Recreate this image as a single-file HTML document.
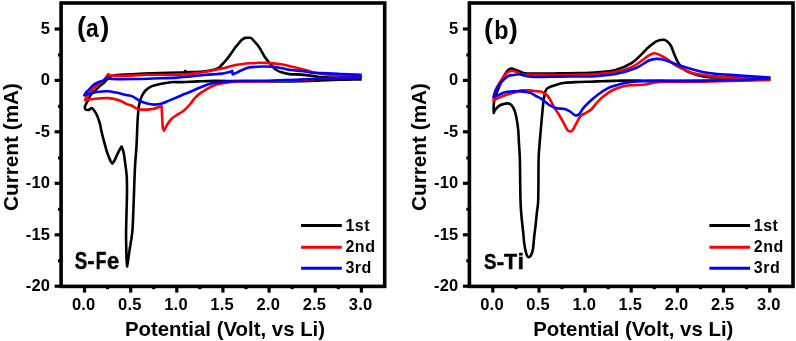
<!DOCTYPE html>
<html><head><meta charset="utf-8"><style>
html,body{margin:0;padding:0;background:#fff;width:796px;height:341px;overflow:hidden}
svg{display:block;will-change:transform}
text{font-family:"Liberation Sans",sans-serif;font-weight:bold;fill:#000}
.tk{font-size:16.5px;letter-spacing:0.2px}
.ax{font-size:20px}
.pl{font-size:27.3px;letter-spacing:0px}
.sl{font-size:22px;letter-spacing:-0.5px}
.lg{font-size:16px;letter-spacing:0.55px}
</style></head><body>
<svg width="796" height="341" viewBox="0 0 796 341">
<text transform="translate(74.66,269.00) scale(0.813,1)" style="font-size:23.0px" stroke="#000" stroke-width="0.45">S</text>
<text transform="translate(87.34,269.00) scale(0.959,1)" style="font-size:23.0px" stroke="#000" stroke-width="0.45">-</text>
<text transform="translate(95.84,269.00) scale(0.754,1)" style="font-size:23.0px" stroke="#000" stroke-width="0.45">F</text>
<text transform="translate(107.04,269.00) scale(0.954,1)" style="font-size:23.0px" stroke="#000" stroke-width="0.45">e</text>
<text transform="translate(484.06,269.00) scale(0.827,1)" style="font-size:22.6px" stroke="#000" stroke-width="0.45">S</text>
<text transform="translate(496.39,269.00) scale(1.028,1)" style="font-size:22.6px" stroke="#000" stroke-width="0.45">-</text>
<text transform="translate(504.06,269.00) scale(0.954,1)" style="font-size:22.6px" stroke="#000" stroke-width="0.45">T</text>
<text transform="translate(517.47,269.00) scale(1.032,1)" style="font-size:22.6px" stroke="#000" stroke-width="0.45">i</text>
<g transform="translate(0.0,0)">
<path d="M361.7,79.4 C358.1,79.5 346.9,79.6 340.0,79.8 C333.1,80.0 326.7,80.2 320.0,80.4 C313.3,80.7 306.7,81.1 300.0,81.3 C293.3,81.5 286.7,81.5 280.0,81.5 C273.3,81.5 266.7,81.4 260.0,81.3 C253.3,81.2 247.5,81.2 240.0,81.1 C232.5,81.0 222.1,80.9 215.0,80.9 C207.9,81.0 203.4,81.2 197.6,81.4 C191.8,81.6 184.5,82.0 180.0,82.1 C175.5,82.2 174.1,81.9 170.8,82.2 C167.5,82.5 163.4,83.2 160.2,83.9 C157.0,84.6 153.8,85.3 151.4,86.4 C149.0,87.5 147.1,88.8 145.5,90.5 C143.9,92.2 142.7,94.1 141.6,96.5 C140.5,98.9 139.8,101.2 139.1,104.9 C138.4,108.7 138.0,114.0 137.7,119.0 C137.3,124.0 137.2,130.2 137.0,135.0 C136.8,139.8 136.7,142.6 136.4,147.6 C136.1,152.6 135.5,158.1 135.1,165.2 C134.7,172.3 134.4,180.9 134.1,190.0 C133.8,199.1 133.3,213.0 133.0,220.0 C132.7,227.0 132.6,228.7 132.3,232.0 C132.0,235.3 131.5,237.7 131.2,240.0 C130.8,242.3 130.5,243.8 130.2,246.0 C129.8,248.2 129.5,250.8 129.1,253.4 C128.7,256.0 128.2,259.5 127.9,261.7 C127.6,263.9 127.2,265.7 127.1,266.5 C127.0,265.4 126.8,263.6 126.6,260.0 C126.4,256.4 126.3,250.0 126.2,245.0 C126.1,240.0 126.0,235.8 126.1,230.0 C126.2,224.2 126.4,216.7 126.6,210.0 C126.8,203.3 127.0,195.7 127.0,190.0 C127.0,184.3 127.0,180.3 126.7,176.0 C126.4,171.7 125.8,168.0 125.3,164.0 C124.8,160.0 124.1,154.9 123.5,152.0 C122.9,149.1 121.9,147.4 121.6,146.5 C121.2,147.1 120.3,148.6 119.5,150.0 C118.7,151.4 117.8,153.2 117.0,155.0 C116.2,156.8 115.3,159.1 114.5,160.5 C113.7,161.9 112.8,163.0 112.4,163.5 C112.1,163.1 111.3,162.8 110.5,161.0 C109.7,159.2 108.4,156.3 107.3,152.9 C106.2,149.5 104.8,144.4 103.8,140.6 C102.8,136.8 101.8,132.8 101.2,130.0 C100.6,127.2 100.5,125.9 99.9,123.7 C99.3,121.5 98.4,119.0 97.7,117.1 C97.0,115.2 96.2,113.8 95.5,112.5 C94.8,111.2 94.0,110.0 93.3,109.3 C92.6,108.5 92.1,108.0 91.5,108.0 C90.9,108.0 90.4,109.2 89.7,109.5 C89.0,109.8 88.2,110.0 87.5,110.0 C86.8,110.0 86.0,109.8 85.5,109.3 C85.0,108.8 84.7,108.2 84.8,107.2 C84.9,106.2 85.7,104.7 86.2,103.6 C86.7,102.5 87.3,101.9 88.0,100.5 C88.7,99.1 89.5,96.7 90.3,95.4 C91.1,94.1 92.0,93.5 93.0,92.5 C94.0,91.5 95.3,90.3 96.5,89.2 C97.7,88.1 98.6,87.0 100.0,85.8 C101.4,84.6 103.4,83.2 104.7,82.0 C106.0,80.8 106.8,79.5 108.0,78.5 C109.2,77.5 110.0,76.6 112.0,76.0 C114.0,75.4 117.0,75.1 120.0,74.8 C123.0,74.5 126.0,74.6 130.0,74.4 C133.9,74.2 138.7,73.7 143.7,73.5 C148.7,73.3 153.9,73.2 160.0,73.0 C166.1,72.8 175.9,72.6 180.0,72.5 C184.1,72.4 183.7,72.2 184.4,72.2 C184.6,72.0 185.2,71.1 185.3,70.9 C185.5,71.1 186.3,72.0 186.5,72.2 C188.8,72.1 196.1,72.1 200.0,71.8 C203.9,71.5 207.0,71.2 210.0,70.6 C213.0,70.0 216.2,69.2 218.2,68.2 C220.2,67.2 220.9,65.6 222.0,64.5 C223.1,63.4 223.8,62.6 224.8,61.5 C225.8,60.4 227.0,59.0 228.1,57.6 C229.2,56.2 230.3,54.6 231.4,53.1 C232.5,51.6 233.5,49.8 234.5,48.5 C235.5,47.2 236.2,46.4 237.3,45.1 C238.4,43.8 239.9,41.8 240.9,40.7 C241.9,39.6 242.7,39.1 243.5,38.6 C244.3,38.1 244.8,38.0 245.5,37.9 C246.2,37.8 247.1,37.8 248.0,37.8 C248.9,37.8 250.0,37.6 250.8,37.9 C251.6,38.2 252.0,38.9 252.6,39.5 C253.2,40.1 253.4,40.4 254.4,41.5 C255.4,42.6 257.4,44.7 258.5,46.2 C259.6,47.7 260.0,48.6 261.0,50.3 C262.0,52.0 263.2,54.6 264.5,56.5 C265.8,58.4 267.2,60.1 268.5,61.8 C269.8,63.5 271.2,65.1 272.5,66.5 C273.8,67.9 275.1,69.1 276.5,70.0 C277.9,70.9 278.7,71.4 280.8,72.1 C282.9,72.8 285.6,73.7 289.0,74.1 C292.4,74.5 297.5,74.3 301.3,74.6 C305.1,74.9 308.5,75.3 311.6,75.7 C314.7,76.1 316.7,76.7 319.8,77.0 C322.9,77.3 325.8,77.4 330.0,77.5 C334.2,77.6 339.7,77.6 345.0,77.6 C350.3,77.6 358.9,77.4 361.7,77.4" fill="none" stroke="#000" stroke-width="2.6" stroke-linejoin="round" stroke-linecap="butt"/>
<path d="M361.7,77.2 C358.1,77.3 346.9,77.6 340.0,77.8 C333.1,78.0 326.7,78.2 320.0,78.6 C313.3,79.0 310.0,79.8 300.0,80.2 C290.0,80.6 270.0,81.0 260.0,81.2 C250.0,81.4 245.1,81.2 240.0,81.4 C234.9,81.6 233.4,81.7 229.3,82.3 C225.2,82.9 219.0,83.7 215.2,84.9 C211.4,86.1 208.9,87.9 206.4,89.3 C203.9,90.7 201.9,92.0 200.0,93.4 C198.1,94.8 196.7,96.1 195.0,97.9 C193.3,99.8 191.8,102.3 189.9,104.5 C188.0,106.7 185.5,109.3 183.3,111.1 C181.1,112.9 178.7,113.8 176.7,115.1 C174.7,116.4 172.9,117.5 171.4,119.0 C169.9,120.5 168.6,122.4 167.4,124.3 C166.2,126.2 164.7,129.5 164.1,130.6 C163.9,130.1 163.1,129.6 162.8,127.5 C162.5,125.4 162.4,121.5 162.2,118.0 C162.0,114.5 161.7,108.2 161.6,106.2 C161.0,106.4 159.6,106.7 158.2,107.2 C156.8,107.7 154.9,108.7 152.9,109.1 C150.9,109.5 148.6,109.6 146.1,109.6 C143.6,109.6 140.5,109.9 138.2,109.3 C135.8,108.7 134.0,106.7 132.0,105.8 C130.0,104.9 128.5,104.8 126.3,103.9 C124.1,103.0 121.9,101.3 119.0,100.3 C116.1,99.3 112.1,98.4 108.7,98.1 C105.3,97.8 101.1,98.3 98.6,98.5 C96.0,98.7 95.1,98.8 93.4,99.0 C91.7,99.2 89.7,99.3 88.3,99.5 C86.9,99.7 85.7,100.1 85.2,100.2 C85.4,99.7 85.8,98.1 86.5,97.0 C87.2,95.9 88.1,94.9 89.3,93.4 C90.5,91.9 91.9,89.8 93.4,88.2 C95.0,86.7 97.0,85.2 98.6,84.1 C100.1,83.0 101.5,82.5 102.7,81.5 C103.9,80.5 104.6,79.2 105.5,78.0 C106.4,76.8 107.8,74.8 108.3,74.1 C108.9,74.3 108.4,75.3 112.0,75.6 C115.6,75.8 124.6,75.7 130.1,75.6 C135.6,75.5 140.2,74.9 145.2,74.8 C150.2,74.7 154.2,74.8 160.0,74.8 C165.8,74.8 174.1,74.8 180.0,74.6 C185.9,74.4 190.4,74.0 195.2,73.4 C200.0,72.8 204.3,72.0 208.8,71.2 C213.3,70.4 218.4,69.4 222.0,68.6 C225.6,67.8 228.3,66.8 230.6,66.2 C232.9,65.6 234.1,65.3 235.8,65.0 C237.6,64.7 238.7,64.5 241.1,64.2 C243.5,63.9 246.8,63.5 250.0,63.3 C253.2,63.1 256.9,62.8 260.3,62.8 C263.7,62.8 267.1,62.9 270.5,63.1 C273.9,63.4 277.4,63.8 280.8,64.3 C284.2,64.8 287.7,65.6 291.1,66.4 C294.5,67.2 298.6,68.3 301.3,69.0 C304.0,69.7 305.4,69.9 307.5,70.5 C309.6,71.1 310.9,71.8 313.7,72.4 C316.4,73.0 319.6,73.7 324.0,74.2 C328.4,74.7 333.7,75.1 340.0,75.3 C346.3,75.5 358.1,75.5 361.7,75.6" fill="none" stroke="#f00" stroke-width="2.6" stroke-linejoin="round" stroke-linecap="butt"/>
<path d="M361.7,77.3 C358.1,77.4 346.9,77.7 340.0,77.9 C333.1,78.1 326.7,78.3 320.0,78.6 C313.3,78.9 306.7,79.2 300.0,79.5 C293.3,79.8 286.7,80.0 280.0,80.2 C273.3,80.4 266.7,80.7 260.0,80.8 C253.3,80.9 245.7,80.8 240.0,81.0 C234.3,81.2 229.9,81.5 225.8,81.8 C221.7,82.1 218.4,82.3 215.2,82.8 C212.0,83.3 209.3,84.0 206.4,84.9 C203.5,85.9 200.3,87.3 197.6,88.5 C194.9,89.7 192.1,91.1 190.0,92.0 C187.9,92.9 187.0,93.0 185.0,93.8 C183.0,94.6 180.5,95.9 177.8,97.0 C175.1,98.1 171.5,99.6 169.0,100.6 C166.5,101.6 165.2,102.5 162.9,103.2 C160.6,103.9 157.7,104.6 154.9,104.6 C152.1,104.6 148.7,103.9 146.1,103.2 C143.5,102.5 141.4,101.7 139.1,100.5 C136.8,99.3 134.1,97.0 132.0,96.1 C129.9,95.2 129.0,95.7 126.3,95.1 C123.6,94.5 119.0,93.2 116.0,92.6 C113.0,92.0 110.9,91.4 108.0,91.3 C105.1,91.2 101.0,91.5 98.6,91.8 C96.2,92.0 95.1,92.4 93.4,92.8 C91.7,93.2 89.8,93.5 88.3,93.9 C86.8,94.3 85.0,95.2 84.3,95.4 C84.6,94.9 85.3,93.3 86.0,92.5 C86.7,91.7 87.1,91.5 88.3,90.3 C89.5,89.1 91.7,86.5 93.4,85.1 C95.1,83.7 96.9,82.9 98.6,82.1 C100.3,81.3 102.2,81.1 103.7,80.3 C105.2,79.5 106.9,77.9 107.5,77.4 C108.1,77.7 106.3,78.7 111.3,79.0 C116.3,79.3 129.6,79.1 137.7,79.0 C145.8,78.9 153.4,78.5 160.0,78.3 C166.6,78.1 172.0,77.9 177.1,77.6 C182.2,77.3 186.2,76.8 190.7,76.4 C195.2,76.0 200.1,75.4 204.2,75.0 C208.3,74.6 212.2,74.4 215.2,74.2 C218.2,74.0 220.3,73.8 222.0,73.6 C223.7,73.4 223.9,73.4 225.3,73.1 C226.7,72.8 229.4,72.2 230.6,71.8 C231.8,71.4 231.9,71.0 232.2,70.8 C232.3,71.4 232.6,73.8 232.7,74.4 C233.2,74.2 234.4,73.8 235.8,73.1 C237.2,72.4 239.3,71.3 241.1,70.5 C242.9,69.7 244.9,68.8 246.4,68.3 C247.9,67.8 248.6,67.5 250.0,67.3 C251.4,67.1 252.6,67.0 254.9,66.9 C257.2,66.8 260.8,66.5 263.7,66.5 C266.6,66.5 269.6,66.5 272.5,66.7 C275.4,67.0 277.7,67.5 280.8,68.0 C283.9,68.5 287.7,69.5 291.1,70.0 C294.5,70.5 297.9,70.6 301.3,71.0 C304.7,71.4 308.2,72.2 311.6,72.6 C315.0,72.9 317.2,72.9 321.9,73.1 C326.6,73.3 333.4,73.7 340.0,74.0 C346.6,74.3 358.1,74.7 361.7,74.8" fill="none" stroke="#00f" stroke-width="2.6" stroke-linejoin="round" stroke-linecap="butt"/>
<rect x="61.1" y="3.0" width="323.6" height="283.4" fill="none" stroke="#000" stroke-width="3.6"/>
<line x1="54.6" x2="61.1" y1="29.0" y2="29.0" stroke="#000" stroke-width="3.2"/>
<text x="50.2" y="34.0" text-anchor="end" class="tk">5</text>
<line x1="54.6" x2="61.1" y1="80.4" y2="80.4" stroke="#000" stroke-width="3.2"/>
<text x="50.2" y="85.4" text-anchor="end" class="tk">0</text>
<line x1="54.6" x2="61.1" y1="131.8" y2="131.8" stroke="#000" stroke-width="3.2"/>
<text x="50.2" y="136.8" text-anchor="end" class="tk">-5</text>
<line x1="54.6" x2="61.1" y1="183.3" y2="183.3" stroke="#000" stroke-width="3.2"/>
<text x="50.2" y="188.3" text-anchor="end" class="tk">-10</text>
<line x1="54.6" x2="61.1" y1="234.8" y2="234.8" stroke="#000" stroke-width="3.2"/>
<text x="50.2" y="239.8" text-anchor="end" class="tk">-15</text>
<line x1="54.6" x2="61.1" y1="286.2" y2="286.2" stroke="#000" stroke-width="3.2"/>
<text x="50.2" y="291.2" text-anchor="end" class="tk">-20</text>
<line x1="58.0" x2="61.1" y1="55.0" y2="55.0" stroke="#000" stroke-width="3"/>
<line x1="58.0" x2="61.1" y1="106.4" y2="106.4" stroke="#000" stroke-width="3"/>
<line x1="58.0" x2="61.1" y1="157.9" y2="157.9" stroke="#000" stroke-width="3"/>
<line x1="58.0" x2="61.1" y1="209.3" y2="209.3" stroke="#000" stroke-width="3"/>
<line x1="58.0" x2="61.1" y1="260.8" y2="260.8" stroke="#000" stroke-width="3"/>
<line x1="84.5" x2="84.5" y1="286.4" y2="292.6" stroke="#000" stroke-width="3.2"/>
<text x="83.7" y="309.6" text-anchor="middle" class="tk">0.0</text>
<line x1="130.7" x2="130.7" y1="286.4" y2="292.6" stroke="#000" stroke-width="3.2"/>
<text x="129.8" y="309.6" text-anchor="middle" class="tk">0.5</text>
<line x1="176.8" x2="176.8" y1="286.4" y2="292.6" stroke="#000" stroke-width="3.2"/>
<text x="176.0" y="309.6" text-anchor="middle" class="tk">1.0</text>
<line x1="222.9" x2="222.9" y1="286.4" y2="292.6" stroke="#000" stroke-width="3.2"/>
<text x="222.1" y="309.6" text-anchor="middle" class="tk">1.5</text>
<line x1="269.1" x2="269.1" y1="286.4" y2="292.6" stroke="#000" stroke-width="3.2"/>
<text x="268.3" y="309.6" text-anchor="middle" class="tk">2.0</text>
<line x1="315.2" x2="315.2" y1="286.4" y2="292.6" stroke="#000" stroke-width="3.2"/>
<text x="314.4" y="309.6" text-anchor="middle" class="tk">2.5</text>
<line x1="361.4" x2="361.4" y1="286.4" y2="292.6" stroke="#000" stroke-width="3.2"/>
<text x="360.6" y="309.6" text-anchor="middle" class="tk">3.0</text>
<line x1="107.6" x2="107.6" y1="286.4" y2="289.2" stroke="#000" stroke-width="3.2"/>
<line x1="153.7" x2="153.7" y1="286.4" y2="289.2" stroke="#000" stroke-width="3.2"/>
<line x1="199.9" x2="199.9" y1="286.4" y2="289.2" stroke="#000" stroke-width="3.2"/>
<line x1="246.0" x2="246.0" y1="286.4" y2="289.2" stroke="#000" stroke-width="3.2"/>
<line x1="292.2" x2="292.2" y1="286.4" y2="289.2" stroke="#000" stroke-width="3.2"/>
<line x1="338.3" x2="338.3" y1="286.4" y2="289.2" stroke="#000" stroke-width="3.2"/>
<text x="225" y="335.6" text-anchor="middle" class="ax" style="font-size:20.4px">Potential (Volt, vs Li)</text>
<text transform="translate(18.0,147.0) rotate(-90)" text-anchor="middle" class="ax" style="font-size:20.75px">Current (mA)</text>
<text x="77.0" y="36.2" class="pl">(</text>
<text transform="translate(86.0,36.5) scale(0.90,1)" class="pl" style="font-size:25.4px">a</text>
<text x="100.2" y="36.2" class="pl">)</text>
<line x1="301.1" x2="341.8" y1="225.5" y2="225.5" stroke="#000" stroke-width="2.9"/>
<text x="345.4" y="231.4" class="lg">1st</text>
<line x1="301.1" x2="341.8" y1="247.3" y2="247.3" stroke="#f00" stroke-width="2.9"/>
<text x="345.4" y="252.1" class="lg">2nd</text>
<line x1="301.1" x2="341.8" y1="268.3" y2="268.3" stroke="#00f" stroke-width="2.9"/>
<text x="345.4" y="273.3" class="lg">3rd</text>
</g>
<g transform="translate(408.3,0)">
<path d="M362.1,79.5 C357.0,79.6 343.4,80.1 331.7,80.3 C320.0,80.5 305.9,80.7 291.7,80.8 C277.5,80.9 256.7,80.9 246.7,80.9 C236.7,80.9 235.9,80.7 231.7,80.6 C227.5,80.5 225.2,80.5 221.3,80.5 C217.4,80.5 212.8,80.7 208.1,80.8 C203.4,80.9 197.5,81.0 193.1,81.2 C188.7,81.4 185.4,81.6 181.7,81.7 C178.0,81.8 174.9,81.8 170.7,82.0 C166.5,82.2 160.6,82.3 156.6,82.8 C152.6,83.3 149.5,84.3 146.7,85.2 C143.8,86.1 141.1,87.0 139.5,88.0 C137.9,89.0 137.7,89.7 137.0,91.5 C136.3,93.3 136.0,95.8 135.5,99.0 C135.0,102.2 134.6,106.0 134.2,110.6 C133.8,115.2 133.3,120.8 132.8,126.4 C132.3,132.0 131.7,138.4 131.3,144.0 C130.9,149.6 130.5,150.7 130.3,160.0 C130.1,169.3 130.2,191.4 129.9,200.0 C129.6,208.6 129.1,207.2 128.7,211.4 C128.3,215.6 127.8,220.8 127.3,225.0 C126.8,229.2 126.4,232.4 125.9,236.5 C125.5,240.6 125.1,246.4 124.6,249.5 C124.1,252.6 123.5,253.9 122.7,255.2 C121.9,256.5 120.6,257.4 119.8,257.1 C119.0,256.8 118.5,255.5 117.9,253.3 C117.3,251.1 116.5,247.6 116.0,243.8 C115.5,240.0 115.2,235.3 114.7,230.5 C114.2,225.7 113.5,220.3 113.1,215.2 C112.7,210.1 112.4,209.2 112.2,200.0 C111.9,190.8 111.8,169.3 111.6,160.0 C111.3,150.7 111.0,149.0 110.7,144.0 C110.4,139.0 110.3,134.3 109.9,129.9 C109.5,125.5 108.7,120.8 108.1,117.6 C107.5,114.4 107.1,112.7 106.3,110.6 C105.5,108.5 104.3,106.4 103.2,105.2 C102.1,104.0 100.9,103.6 99.7,103.4 C98.4,103.2 97.1,103.5 95.7,103.9 C94.3,104.3 92.6,104.6 91.1,105.6 C89.6,106.6 87.8,108.5 86.9,109.7 C85.9,110.9 85.6,112.5 85.4,113.0 C85.4,112.2 85.3,109.7 85.3,108.0 C85.3,106.3 85.4,104.7 85.6,103.0 C85.8,101.3 86.2,99.8 86.7,98.0 C87.2,96.2 87.9,94.0 88.7,92.0 C89.4,90.0 90.3,88.2 91.2,86.0 C92.1,83.8 93.2,81.1 94.2,79.0 C95.2,76.9 96.2,75.0 97.2,73.5 C98.1,72.0 98.9,70.8 99.9,70.0 C100.9,69.2 102.1,68.6 103.4,68.6 C104.7,68.6 106.0,69.5 107.5,70.0 C109.0,70.5 110.6,71.2 112.2,71.7 C113.8,72.2 113.7,73.0 116.9,73.3 C120.2,73.6 125.9,73.6 131.7,73.6 C137.5,73.6 145.0,73.5 151.7,73.4 C158.4,73.3 165.9,73.1 171.7,73.0 C177.5,72.9 180.8,73.1 186.7,72.6 C192.6,72.1 201.0,71.6 207.2,70.0 C213.4,68.4 219.2,65.6 223.7,62.9 C228.2,60.2 231.2,56.1 233.9,53.6 C236.6,51.1 237.5,49.6 239.9,47.6 C242.3,45.6 245.7,42.7 248.1,41.4 C250.5,40.1 252.6,39.9 254.3,39.8 C256.0,39.7 257.0,40.0 258.4,41.0 C259.8,42.0 261.1,43.0 262.5,45.5 C263.9,48.0 265.2,52.7 266.6,55.8 C268.0,58.9 269.0,61.6 270.7,64.0 C272.4,66.4 275.1,68.8 276.9,70.2 C278.7,71.6 279.9,71.8 281.7,72.6 C283.5,73.4 284.6,74.0 287.7,74.8 C290.8,75.6 293.2,76.7 300.5,77.2 C307.8,77.7 321.4,77.4 331.7,77.6 C342.0,77.8 357.0,78.2 362.1,78.3" fill="none" stroke="#000" stroke-width="2.6" stroke-linejoin="round" stroke-linecap="butt"/>
<path d="M362.1,80.0 C359.5,80.0 351.8,80.2 346.7,80.3 C341.6,80.4 337.5,80.4 331.7,80.6 C325.9,80.8 320.0,81.0 311.7,81.2 C303.4,81.4 290.9,81.7 281.7,81.8 C272.5,81.9 262.5,81.7 256.7,81.8 C250.9,81.9 249.5,82.1 246.7,82.5 C243.9,82.9 241.7,83.6 239.7,84.0 C237.7,84.4 237.6,84.6 234.5,84.8 C231.4,85.0 225.0,84.9 221.3,85.3 C217.6,85.7 215.4,86.1 212.5,87.0 C209.6,87.9 206.6,88.9 203.7,90.5 C200.8,92.1 197.4,94.6 194.9,96.6 C192.4,98.6 190.7,100.3 188.7,102.5 C186.7,104.7 184.8,107.8 182.9,109.5 C181.1,111.2 179.4,111.7 177.6,112.8 C175.8,113.9 173.8,114.4 172.3,116.1 C170.8,117.8 169.7,120.4 168.4,122.7 C167.1,125.0 165.5,128.5 164.4,130.0 C163.3,131.5 162.7,131.5 161.8,131.5 C160.9,131.5 160.2,131.5 159.1,130.0 C158.0,128.5 156.7,125.5 155.2,122.7 C153.7,120.0 151.4,116.0 149.9,113.5 C148.4,111.0 147.3,109.9 146.1,107.8 C144.9,105.7 143.7,102.8 142.5,100.8 C141.3,98.8 140.5,97.0 139.0,95.5 C137.5,94.0 135.7,92.7 133.7,92.0 C131.7,91.3 128.7,91.4 126.7,91.1 C124.7,90.8 123.9,90.5 121.7,90.4 C119.5,90.3 116.2,90.0 113.4,90.4 C110.6,90.8 107.8,92.0 105.1,92.8 C102.3,93.6 99.6,94.2 96.9,95.2 C94.2,96.2 90.6,97.7 88.7,98.7 C86.7,99.7 85.8,100.6 85.2,101.0 C85.4,99.6 85.8,95.1 86.4,92.8 C87.0,90.5 87.7,89.0 88.7,87.0 C89.7,85.0 91.1,82.9 92.3,81.1 C93.5,79.3 94.6,77.9 95.8,76.4 C97.0,74.9 98.0,73.3 99.3,72.3 C100.6,71.3 102.0,70.7 103.4,70.6 C104.8,70.5 106.2,71.2 107.5,71.7 C108.8,72.2 110.0,73.0 111.0,73.5 C112.0,74.0 110.2,74.4 113.7,74.6 C117.1,74.8 125.4,74.8 131.7,74.9 C138.0,75.0 145.0,75.0 151.7,75.0 C158.4,75.0 165.9,74.8 171.7,74.7 C177.5,74.6 180.8,74.6 186.7,74.2 C192.6,73.8 201.0,73.3 207.2,72.1 C213.4,70.9 218.9,69.2 223.7,67.0 C228.5,64.8 233.3,60.6 236.0,58.7 C238.7,56.8 238.2,56.7 239.9,55.8 C241.6,54.9 244.0,53.4 246.1,53.3 C248.1,53.2 250.1,54.5 252.2,55.4 C254.2,56.3 256.0,57.3 258.4,58.9 C260.8,60.5 263.9,63.3 266.6,65.0 C269.3,66.7 271.7,67.7 274.8,69.1 C277.9,70.5 281.8,72.3 285.1,73.3 C288.3,74.2 290.7,74.3 294.3,74.8 C297.9,75.3 300.5,75.9 306.8,76.4 C313.1,76.9 325.3,77.5 332.0,77.8 C338.6,78.1 341.7,78.2 346.7,78.3 C351.7,78.4 359.5,78.5 362.1,78.6" fill="none" stroke="#f00" stroke-width="2.6" stroke-linejoin="round" stroke-linecap="butt"/>
<path d="M362.1,78.6 C359.5,78.7 351.8,79.1 346.7,79.3 C341.6,79.5 340.9,79.7 331.7,80.0 C322.5,80.3 305.0,80.8 291.7,80.9 C278.4,81.1 261.2,80.9 251.7,80.9 C242.2,81.0 238.8,81.1 234.5,81.2 C230.2,81.3 228.6,81.4 225.7,81.7 C222.8,82.0 219.8,82.4 216.9,83.0 C214.0,83.6 211.0,84.3 208.1,85.2 C205.2,86.1 202.2,86.8 199.3,88.3 C196.4,89.8 193.4,91.8 190.5,94.0 C187.6,96.2 184.3,98.9 181.7,101.3 C179.1,103.7 176.8,106.1 175.0,108.2 C173.2,110.3 172.3,112.8 171.0,114.0 C169.7,115.2 168.5,115.8 167.0,115.4 C165.5,115.0 163.6,112.6 161.8,111.5 C160.1,110.4 158.7,109.5 156.5,108.9 C154.3,108.4 151.0,108.8 148.6,108.2 C146.2,107.7 144.0,106.7 142.0,105.6 C140.0,104.5 138.4,102.8 136.7,101.6 C135.0,100.3 133.7,99.1 132.0,98.1 C130.3,97.1 128.4,96.4 126.7,95.5 C125.0,94.6 124.1,93.5 121.7,92.8 C119.3,92.1 115.0,91.6 112.2,91.4 C109.4,91.2 107.6,91.3 105.1,91.4 C102.5,91.5 99.2,91.7 96.9,92.2 C94.6,92.7 93.0,93.8 91.1,94.6 C89.1,95.4 86.2,96.6 85.2,97.0 C85.6,95.9 86.6,92.6 87.6,90.5 C88.6,88.4 89.7,86.5 91.1,84.6 C92.5,82.7 94.2,80.8 95.8,79.3 C97.4,77.8 99.0,76.5 100.5,75.8 C102.0,75.1 103.3,75.2 105.1,75.0 C106.8,74.8 109.0,74.2 111.0,74.3 C113.0,74.4 114.3,75.3 116.9,75.8 C119.5,76.2 120.9,76.9 126.7,77.0 C132.5,77.1 144.2,76.7 151.7,76.6 C159.2,76.5 165.9,76.6 171.7,76.5 C177.5,76.4 180.8,76.6 186.7,76.2 C192.6,75.8 200.3,75.5 207.2,74.1 C214.0,72.7 222.3,70.2 227.8,68.0 C233.3,65.8 236.7,62.3 240.1,60.8 C243.5,59.3 245.4,59.0 248.1,58.9 C250.8,58.8 253.6,59.2 256.3,59.9 C259.1,60.6 261.8,62.0 264.6,63.0 C267.3,64.0 269.7,65.1 272.8,66.1 C275.9,67.1 279.4,68.1 283.0,69.1 C286.6,70.1 290.3,71.2 294.3,72.0 C298.3,72.8 300.5,73.2 306.8,73.8 C313.1,74.4 325.3,75.0 332.0,75.5 C338.6,76.0 341.7,76.2 346.7,76.5 C351.7,76.8 359.5,77.4 362.1,77.6" fill="none" stroke="#00f" stroke-width="2.6" stroke-linejoin="round" stroke-linecap="butt"/>
<rect x="61.1" y="3.0" width="323.6" height="283.4" fill="none" stroke="#000" stroke-width="3.6"/>
<line x1="54.6" x2="61.1" y1="29.0" y2="29.0" stroke="#000" stroke-width="3.2"/>
<text x="50.2" y="34.0" text-anchor="end" class="tk">5</text>
<line x1="54.6" x2="61.1" y1="80.4" y2="80.4" stroke="#000" stroke-width="3.2"/>
<text x="50.2" y="85.4" text-anchor="end" class="tk">0</text>
<line x1="54.6" x2="61.1" y1="131.8" y2="131.8" stroke="#000" stroke-width="3.2"/>
<text x="50.2" y="136.8" text-anchor="end" class="tk">-5</text>
<line x1="54.6" x2="61.1" y1="183.3" y2="183.3" stroke="#000" stroke-width="3.2"/>
<text x="50.2" y="188.3" text-anchor="end" class="tk">-10</text>
<line x1="54.6" x2="61.1" y1="234.8" y2="234.8" stroke="#000" stroke-width="3.2"/>
<text x="50.2" y="239.8" text-anchor="end" class="tk">-15</text>
<line x1="54.6" x2="61.1" y1="286.2" y2="286.2" stroke="#000" stroke-width="3.2"/>
<text x="50.2" y="291.2" text-anchor="end" class="tk">-20</text>
<line x1="58.0" x2="61.1" y1="55.0" y2="55.0" stroke="#000" stroke-width="3"/>
<line x1="58.0" x2="61.1" y1="106.4" y2="106.4" stroke="#000" stroke-width="3"/>
<line x1="58.0" x2="61.1" y1="157.9" y2="157.9" stroke="#000" stroke-width="3"/>
<line x1="58.0" x2="61.1" y1="209.3" y2="209.3" stroke="#000" stroke-width="3"/>
<line x1="58.0" x2="61.1" y1="260.8" y2="260.8" stroke="#000" stroke-width="3"/>
<line x1="84.5" x2="84.5" y1="286.4" y2="292.6" stroke="#000" stroke-width="3.2"/>
<text x="83.7" y="309.6" text-anchor="middle" class="tk">0.0</text>
<line x1="130.7" x2="130.7" y1="286.4" y2="292.6" stroke="#000" stroke-width="3.2"/>
<text x="129.8" y="309.6" text-anchor="middle" class="tk">0.5</text>
<line x1="176.8" x2="176.8" y1="286.4" y2="292.6" stroke="#000" stroke-width="3.2"/>
<text x="176.0" y="309.6" text-anchor="middle" class="tk">1.0</text>
<line x1="222.9" x2="222.9" y1="286.4" y2="292.6" stroke="#000" stroke-width="3.2"/>
<text x="222.1" y="309.6" text-anchor="middle" class="tk">1.5</text>
<line x1="269.1" x2="269.1" y1="286.4" y2="292.6" stroke="#000" stroke-width="3.2"/>
<text x="268.3" y="309.6" text-anchor="middle" class="tk">2.0</text>
<line x1="315.2" x2="315.2" y1="286.4" y2="292.6" stroke="#000" stroke-width="3.2"/>
<text x="314.4" y="309.6" text-anchor="middle" class="tk">2.5</text>
<line x1="361.4" x2="361.4" y1="286.4" y2="292.6" stroke="#000" stroke-width="3.2"/>
<text x="360.6" y="309.6" text-anchor="middle" class="tk">3.0</text>
<line x1="107.6" x2="107.6" y1="286.4" y2="289.2" stroke="#000" stroke-width="3.2"/>
<line x1="153.7" x2="153.7" y1="286.4" y2="289.2" stroke="#000" stroke-width="3.2"/>
<line x1="199.9" x2="199.9" y1="286.4" y2="289.2" stroke="#000" stroke-width="3.2"/>
<line x1="246.0" x2="246.0" y1="286.4" y2="289.2" stroke="#000" stroke-width="3.2"/>
<line x1="292.2" x2="292.2" y1="286.4" y2="289.2" stroke="#000" stroke-width="3.2"/>
<line x1="338.3" x2="338.3" y1="286.4" y2="289.2" stroke="#000" stroke-width="3.2"/>
<text x="225" y="335.6" text-anchor="middle" class="ax" style="font-size:20.4px">Potential (Volt, vs Li)</text>
<text transform="translate(18.0,147.0) rotate(-90)" text-anchor="middle" class="ax" style="font-size:20.75px">Current (mA)</text>
<text x="75.7" y="38.0" class="pl">(</text>
<text transform="translate(86.0,39.0) scale(0.88,1)" class="pl" style="font-size:26.5px">b</text>
<text x="100.4" y="38.0" class="pl">)</text>
<line x1="301.1" x2="341.8" y1="225.5" y2="225.5" stroke="#000" stroke-width="2.9"/>
<text x="345.4" y="231.4" class="lg">1st</text>
<line x1="301.1" x2="341.8" y1="247.3" y2="247.3" stroke="#f00" stroke-width="2.9"/>
<text x="345.4" y="252.1" class="lg">2nd</text>
<line x1="301.1" x2="341.8" y1="268.3" y2="268.3" stroke="#00f" stroke-width="2.9"/>
<text x="345.4" y="273.3" class="lg">3rd</text>
</g>
</svg>
</body></html>
